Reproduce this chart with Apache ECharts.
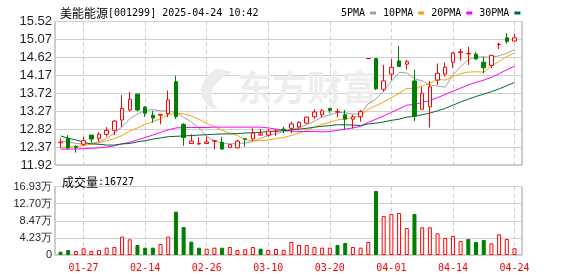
<!DOCTYPE html>
<html>
<head>
<meta charset="utf-8">
<script src="https://cdn.jsdelivr.net/npm/echarts@6/dist/echarts.min.js"></script>
<style>
  html, body {margin: 0; padding: 0; background: #fff;}
  #main {width: 578px; height: 276px;}
</style>
</head>
<body>
<div id="main"></div>
<script>
// 日期
const dates = ['01-22','01-23','01-24','01-27','02-05','02-06','02-07','02-10','02-11','02-12',
  '02-13','02-14','02-17','02-18','02-19','02-20','02-21','02-24','02-25','02-26',
  '02-27','02-28','03-03','03-04','03-05','03-06','03-07','03-10','03-11','03-12',
  '03-13','03-14','03-17','03-18','03-19','03-20','03-21','03-24','03-25','03-26',
  '03-27','03-28','03-31','04-01','04-02','04-03','04-07','04-08','04-09','04-10',
  '04-11','04-14','04-15','04-16','04-17','04-18','04-21','04-22','04-23','04-24'];
// K线 开/收/低/高
const opens = [12.48,12.59,12.38,12.44,12.67,12.59,12.69,12.79,13.05,13.30,
  13.70,13.37,13.17,13.17,13.21,14.01,12.94,12.46,12.45,12.46,
  12.52,12.49,12.36,12.35,12.58,12.57,12.67,12.67,12.76,12.82,
  12.84,12.87,12.97,13.13,13.18,13.34,13.25,13.18,13.07,13.13,
  14.59,14.59,13.82,14.20,14.53,14.45,14.03,13.32,13.38,14.05,
  14.20,14.50,14.74,14.71,14.70,14.50,14.42,14.94,15.11,15.03];
const closes = [12.49,12.35,12.36,12.53,12.57,12.69,12.79,13.02,13.34,13.57,
  13.30,13.22,13.10,13.19,13.55,13.13,12.61,12.52,12.46,12.50,
  12.53,12.32,12.43,12.52,12.57,12.72,12.70,12.77,12.77,12.81,
  12.95,12.99,13.12,13.25,13.28,13.29,13.26,13.07,13.13,13.26,
  14.59,13.83,14.03,14.37,14.39,14.51,13.15,13.72,13.88,14.22,
  14.37,14.73,14.76,14.72,14.58,14.36,14.67,14.95,15.02,15.11];
const lows = [12.35,12.30,12.23,12.40,12.48,12.51,12.63,12.67,12.88,13.26,
  13.27,13.13,12.98,12.94,13.12,13.07,12.40,12.45,12.42,12.46,
  12.31,12.30,12.36,12.34,12.38,12.53,12.66,12.63,12.65,12.72,
  12.72,12.80,12.96,13.08,13.12,13.23,13.12,12.80,12.84,13.01,
  14.59,13.80,13.76,14.05,14.39,14.31,13.02,13.31,12.86,13.93,
  14.14,14.35,14.54,14.43,14.56,14.22,14.35,14.83,14.96,15.02];
const highs = [12.59,12.67,12.42,12.63,12.67,12.74,12.87,13.05,13.68,13.75,
  13.70,13.40,13.28,13.19,13.79,14.16,12.97,12.69,12.61,12.63,
  12.53,12.62,12.44,12.55,12.59,12.84,12.82,12.82,12.82,12.88,
  13.01,13.02,13.13,13.32,13.32,13.35,13.33,13.30,13.18,13.30,
  14.59,14.59,14.43,14.58,14.91,14.56,14.31,13.88,14.03,14.47,
  14.49,14.75,14.83,14.88,14.75,14.64,14.68,14.99,15.23,15.21];
const prevClose = 12.60; // 01-22 前一日收盘(估)

// 均线
const ma5 = [12.52,12.50,12.46,12.45,12.46,12.50,12.59,12.72,12.88,13.08,
  13.20,13.29,13.31,13.28,13.27,13.24,13.12,13.00,12.85,12.64,
  12.52,12.47,12.45,12.46,12.47,12.51,12.59,12.66,12.71,12.75,
  12.80,12.86,12.93,13.02,13.12,13.18,13.24,13.23,13.20,13.20,
  13.46,13.58,13.77,14.02,14.24,14.23,14.09,14.03,13.93,13.90,
  13.87,14.18,14.39,14.56,14.63,14.63,14.62,14.66,14.72,14.82];
const ma10 = [12.36,12.37,12.38,12.41,12.44,12.48,12.53,12.58,12.66,12.77,
  12.85,12.94,13.01,13.08,13.18,13.22,13.20,13.15,13.07,12.96,
  12.88,12.79,12.72,12.66,12.56,12.52,12.53,12.55,12.58,12.61,
  12.66,12.72,12.79,12.87,12.94,12.99,13.05,13.08,13.11,13.16,
  13.32,13.41,13.50,13.61,13.72,13.84,13.83,13.90,13.97,14.07,
  14.05,14.14,14.21,14.25,14.26,14.25,14.40,14.52,14.64,14.73];
const ma20 = [12.32,12.32,12.32,12.33,12.34,12.35,12.37,12.40,12.45,12.49,
  12.55,12.61,12.67,12.74,12.80,12.85,12.86,12.86,12.86,12.86,
  12.87,12.87,12.87,12.87,12.87,12.87,12.87,12.85,12.82,12.79,
  12.77,12.76,12.76,12.76,12.75,12.76,12.79,12.82,12.85,12.89,
  12.99,13.07,13.15,13.24,13.33,13.42,13.44,13.49,13.54,13.61,
  13.69,13.77,13.85,13.93,13.99,14.05,14.12,14.21,14.31,14.40];
const ma30 = [12.65,12.59,12.55,12.49,12.45,12.44,12.42,12.42,12.45,12.46,
  12.50,12.53,12.57,12.60,12.63,12.64,12.65,12.66,12.67,12.68,
  12.69,12.70,12.70,12.71,12.72,12.73,12.74,12.76,12.77,12.78,
  12.80,12.82,12.84,12.87,12.89,12.91,12.93,12.93,12.92,12.91,
  12.95,12.97,13.00,13.04,13.07,13.12,13.14,13.18,13.22,13.28,
  13.34,13.42,13.50,13.57,13.64,13.70,13.76,13.83,13.91,13.99];

// 成交量(手)
const volumes = [8200,12400,9900,16500,9900,12400,18100,19800,45300,38700,
  24700,18100,18100,27200,45300,107100,69200,33000,18100,15700,
  18100,18100,19800,12400,14000,19800,15700,12400,14800,12400,
  32100,24700,24700,19800,18100,18100,24700,29700,19800,18100,
  32100,158200,96400,101400,103800,66700,101400,68400,68400,53600,
  42000,47000,34600,39600,32100,37100,28800,51100,39600,16727];

// 刻度
const priceTicks = ['11.92','12.37','12.82','13.27','13.72','14.17','14.62','15.07','15.52'];
const volTicks = ['0','4.23万','8.47万','12.70万','16.93万'];
const priceMin = 11.92, priceMax = 15.52;
const volMax = 169300;

const RED = '#ff0000', GREEN = '#008000';
const maColors = ['#a0a0a0', '#f5a300', '#ff00ff', '#006633'];
const numFont = '"Liberation Sans", Arial, sans-serif';
const monoFont = '"DejaVu Sans Mono", monospace';
const cjkFont = '"Noto Sans CJK SC", sans-serif';

const showDate = (i) => i % 8 === 3;

const chart = echarts.init(document.getElementById('main'));

// 量柱颜色按与前一日收盘比较
const volData = volumes.map((v, i) => {
  const up = closes[i] >= (i ? closes[i - 1] : prevClose);
  return {
    value: v,
    itemStyle: up ? {color: '#fff', borderColor: RED, borderWidth: 1} : {color: GREEN, borderColor: GREEN, borderWidth: 1}
  };
});

const frameY = (data, size) => ({
  type: 'category',
  data: data,
  boundaryGap: false,
  axisLine: {show: false},
  axisTick: {show: false},
  axisLabel: {interval: 0, margin: 3, color: '#1e1e2e', fontFamily: numFont, fontSize: size},
  splitLine: {show: true, interval: 0, lineStyle: {color: '#cfcfcf', width: 1}}
});

const dashed = {show: true, interval: (i) => showDate(i), lineStyle: {color: '#cccccc', type: [4, 3], width: 1}};

const maSeries = [ma5, ma10, ma20, ma30].map((d, k) => ({
  name: ['5PMA', '10PMA', '20PMA', '30PMA'][k],
  type: 'line',
  xAxisIndex: 1,
  yAxisIndex: 1,
  data: d,
  symbol: 'none',
  silent: true,
  z: 3,
  itemStyle: {color: maColors[k]},
  lineStyle: {color: maColors[k], width: 1}
}));

const richText = {
  a: {fontFamily: cjkFont, fontSize: 12, fontWeight: 'normal', color: '#000', lineHeight: 14},
  b: {fontFamily: monoFont, fontSize: 10, fontWeight: 'normal', color: '#000', lineHeight: 14}
};

chart.setOption({
  animation: false,
  title: [
    {left: 55, top: 1, text: '{a|美能能源}{b|[001299] 2025-04-24 10:42}',
      textStyle: {fontWeight: 'normal', rich: richText}},
    {left: 57, top: 170, text: '{a|成交量}{b|:16727}',
      textStyle: {fontWeight: 'normal', rich: richText}}
  ],
  legend: {
    left: 336, top: 3,
    align: 'right',
    icon: 'rect',
    itemWidth: 6, itemHeight: 3,
    itemGap: 7,
    selectedMode: false,
    textStyle: {fontFamily: monoFont, fontSize: 10, color: '#000'},
    data: ['5PMA', '10PMA', '20PMA', '30PMA']
  },
  // 水印
  graphic: [
    {
      type: 'polygon', left: 201, top: 69, z: 1, silent: true,
      shape: {points: [[16, 0], [9, 5], [4, 12], [1, 20], [2, 28], [6, 35], [12, 39], [18, 41],
        [13, 34], [11, 26], [13, 18], [19, 12], [25, 7], [32, 3], [24, 1]]},
      style: {fill: '#ececec'}
    },
    {
      type: 'text', left: 237, top: 70, z: 1, silent: true,
      style: {text: '东方财富', font: 'bold 35px "Noto Sans CJK SC"', fill: '#ededed'}
    }
  ],
  grid: [
    {left: 55, right: 56, top: 21.5, height: 143.5, show: true, borderColor: '#999', borderWidth: 1, backgroundColor: 'transparent'},
    {left: 60.5, right: 63.5, top: 21.5, height: 143.5},
    {left: 55, right: 56, top: 186.5, height: 68.5, show: true, borderColor: '#999', borderWidth: 1, backgroundColor: 'transparent'},
    {left: 60.5, right: 63.5, top: 186.5, height: 68.5}
  ],
  xAxis: [
    {gridIndex: 0, type: 'value', min: 0, max: 1, show: false},
    {gridIndex: 1, type: 'category', data: dates, boundaryGap: false,
      axisLine: {show: false}, axisTick: {show: false}, axisLabel: {show: false}, splitLine: dashed},
    {gridIndex: 2, type: 'value', min: 0, max: 1, show: false},
    {gridIndex: 3, type: 'category', data: dates, boundaryGap: false,
      axisLine: {show: false}, axisTick: {show: false},
      axisLabel: {interval: (i) => showDate(i), color: RED, fontFamily: monoFont, fontSize: 10, margin: 8},
      splitLine: dashed}
  ],
  yAxis: [
    Object.assign({gridIndex: 0}, frameY(priceTicks, 13)),
    {gridIndex: 1, type: 'value', min: priceMin, max: priceMax, show: false, splitLine: {show: false}},
    Object.assign({gridIndex: 2}, frameY(volTicks, 11)),
    {gridIndex: 3, type: 'value', min: 0, max: volMax, show: false, splitLine: {show: false}}
  ],
  series: [
    {
      type: 'candlestick',
      xAxisIndex: 1,
      yAxisIndex: 1,
      barWidth: 4,
      z: 4,
      data: dates.map((d, i) => [opens[i], closes[i], lows[i], highs[i]]),
      itemStyle: {color: '#fff', color0: GREEN, borderColor: RED, borderColor0: GREEN, borderWidth: 1}
    },
    ...maSeries,
    {
      type: 'bar',
      xAxisIndex: 3,
      yAxisIndex: 3,
      barWidth: 4,
      data: volData
    }
  ]
});
</script>
</body>
</html>
